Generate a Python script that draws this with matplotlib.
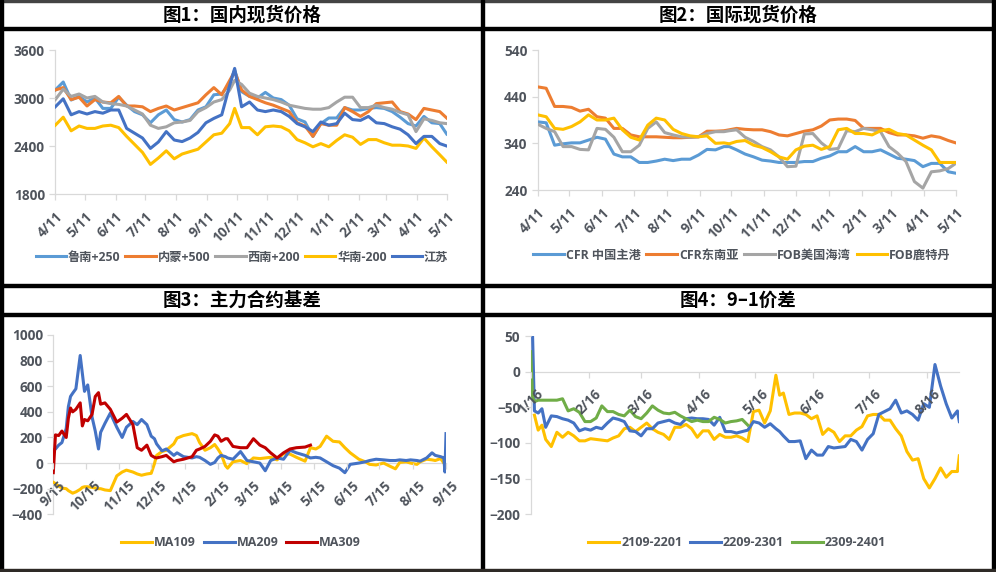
import numpy as np
import matplotlib
matplotlib.use('Agg')
import matplotlib.pyplot as plt
from matplotlib.patches import Rectangle

plt.rcParams['font.family'] = ['Open Sans', 'Noto Sans CJK SC', 'DejaVu Sans']
plt.rcParams['font.weight'] = 'bold'

nan = np.nan

# ---- 图1 / 图2: days since 2021-04-11 ----
p12_days = [0, 8, 16, 24, 32, 40, 48, 56, 64, 72, 80, 88, 96, 104, 112, 120, 128, 136, 144, 152,
            160, 168, 176, 181, 188, 196, 204, 212, 220, 228, 236, 244, 252, 260, 268, 276, 284, 292,
            300, 308, 316, 324, 332, 340, 348, 356, 364, 372, 380, 388, 395]

lunan = [3100, 3200, 2975, 3020, 2950, 3000, 2870, 2870, 3010, 2910, 2830, 2790, 2690, 2790, 2850, 2730, 2700,
         2730, 2850, 2890, 3040, 3050, 3180, 3350, 3080, 3020, 3000, 3070, 3000, 2980, 2910, 2740, 2700, 2520,
         2680, 2750, 2750, 2880, 2850, 2850, 2870, 2880, 2870, 2830, 2760, 2680, 2650, 2770, 2690, 2680, 2550]
neimeng = [3100, 3130, 2980, 3010, 2900, 2980, 2950, 2940, 3020, 2900, 2900, 2890, 2830, 2870, 2900, 2850, 2880,
           2910, 2940, 3040, 3130, 3040, 3220, 3330, 3100, 3020, 2980, 2940, 2910, 2870, 2830, 2690, 2650, 2520,
           2680, 2660, 2660, 2880, 2830, 2770, 2830, 2930, 2940, 2950, 2830, 2800, 2730, 2870, 2850, 2830, 2750]
xinan = [2980, 3110, 3020, 3050, 3000, 3020, 2950, 2930, 2920, 2900, 2850, 2800, 2660, 2620, 2640, 2690, 2700,
         2720, 2830, 2880, 2950, 2980, 3100, 3220, 3170, 3060, 3020, 3000, 2980, 2950, 2910, 2890, 2870, 2860,
         2860, 2880, 2950, 3010, 3010, 2880, 2880, 2910, 2880, 2860, 2820, 2790, 2580, 2740, 2720, 2690, 2680]
huanan = [2660, 2760, 2590, 2650, 2620, 2620, 2650, 2660, 2630, 2520, 2420, 2320, 2170, 2250, 2340, 2240, 2300,
          2330, 2360, 2450, 2540, 2560, 2680, 2870, 2630, 2630, 2540, 2640, 2650, 2640, 2590, 2480, 2440, 2390,
          2430, 2390, 2470, 2540, 2510, 2420, 2480, 2480, 2440, 2410, 2410, 2400, 2370, 2500, 2390, 2290, 2200]
jiangsu = [2890, 2990, 2790, 2830, 2800, 2830, 2810, 2850, 2850, 2620, 2560, 2500, 2370, 2450, 2580, 2475, 2455,
           2500, 2570, 2690, 2745, 2790, 3160, 3370, 2890, 2950, 2850, 2830, 2850, 2830, 2770, 2680, 2640, 2580,
           2700, 2660, 2680, 2810, 2730, 2720, 2770, 2690, 2680, 2640, 2610, 2540, 2430, 2520, 2520, 2430, 2400]

cfr_cn = [386, 384, 336, 339, 341, 341, 347, 353, 349, 317, 311, 311, 299, 299, 302, 306, 303, 306, 306, 315,
          327, 326, 333, 333, 326, 317, 311, 304, 302, 299, 299, 299, 301, 301, 308, 313, 322, 322, 333, 322,
          322, 326, 317, 308, 306, 303, 290, 297, 297, 279, 276]
cfr_sea = [461, 458, 419, 419, 417, 409, 413, 397, 394, 372, 372, 358, 354, 354, 354, 353, 352, 352, 353, 354,
           366, 366, 367, 369, 372, 370, 369, 369, 365, 358, 356, 361, 366, 369, 377, 390, 392, 392, 389, 372,
           372, 372, 363, 358, 358, 356, 351, 356, 353, 346, 341]
fob_us = [381, 372, 365, 333, 333, 327, 326, 372, 370, 353, 322, 322, 336, 372, 386, 363, 358, 354, 353, 354,
          361, 365, 365, 367, 369, 353, 344, 333, 326, 311, 290, 291, 360, 361, 341, 327, 329, 367, 365, 372,
          369, 365, 333, 319, 301, 258, 244, 279, 281, 286, 297]
fob_rtm = [401, 397, 372, 370, 376, 386, 401, 390, 390, 394, 369, 353, 347, 379, 394, 390, 370, 361, 356, 354,
           356, 340, 341, 339, 344, 346, 336, 331, 322, 311, 306, 326, 334, 336, 327, 333, 369, 372, 361, 361,
           358, 367, 370, 361, 358, 347, 336, 326, 299, 299, 299]

# ---- 图3: days since 9/15 ----
p3_days = [0, 2, 5, 8, 12, 14, 16, 18, 21, 25, 27, 29, 32, 36, 39, 42, 44, 48, 53, 59, 64, 68, 74, 78, 82, 87,
           91, 94, 96, 101, 105, 112, 115, 121, 129, 133, 136, 141, 146, 150, 153, 156, 160, 162, 167, 174, 180,
           186, 192, 197, 202, 208, 214, 220, 226, 234, 239, 244, 248, 254, 260, 266, 271, 276, 284, 290, 294,
           300, 307, 313, 318, 322, 328, 332, 338, 341, 347, 352, 355, 360, 363, 364, 365]
ma109 = [-150, -160, -180, -195, -200, -215, -225, -235, -225, -205, -190, -185, -185, -190, -195, -200, -200,
         -210, -215, -100, -70, -55, -70, -85, -95, -85, -80, -5, 60, 90, 100, 150, 195, 215, 230, 215, 160, 100,
         120, 145, 110, 70, -20, -40, 10, 20, -5, 40, 35, 40, 45, 25, 75, 70, 45, 15, 120, 110, 130, 210, 170,
         165, 120, 80, 30, 10, -10, -15, 0, -25, -45, 5, 10, 0, -10, 10, 30, 25, 20, 35, 0, 20, 95]
ma209 = [100, 110, 140, 160, 270, 440, 520, 545, 580, 840, 700, 560, 610, 360, 250, 110, 240, 310, 390, 280,
         200, 280, 325, 300, 340, 300, 210, 190, 150, 95, 110, 60, 80, 50, 40, 50, 45, 20, -10, 5, 40, 60, 50,
         40, 30, 90, 20, 10, 0, -60, 20, 40, 30, 100, 80, 60, 40, 45, 40, 10, -20, -40, -75, -10, 0, 10, 20, 30,
         25, 20, 20, 25, 20, 25, 20, 15, 40, 80, 60, 50, 40, -70, 230]
ma309 = [-75, 220, 215, 250, 200, 350, 430, 400, 420, 470, 290, 340, 330, 380, 520, 550, 460, 470, 420, 320,
         350, 380, 300, 120, 100, 140, 60, 45, 40, 50, 60, 10, 20, 30, 50, 100, 110, 130, 170, 220, 210, 170,
         190, 190, 130, 120, 120, 190, 140, 120, 80, 40, 80, 110, 120, 125, 140,
         nan, nan, nan, nan, nan, nan, nan, nan, nan, nan, nan, nan, nan, nan, nan, nan, nan, nan, nan, nan,
         nan, nan, nan, nan, nan, nan]

# ---- 图4: days since 1/16 ----
p4_days = [0, 1, 2, 4, 6, 8, 11, 14, 17, 20, 23, 26, 29, 32, 35, 38, 41, 44, 47, 50, 53, 56, 59, 62, 65, 68, 71,
           74, 77, 80, 83, 86, 89, 92, 95, 98, 101, 104, 107, 110, 113, 116, 119, 122, 125, 128, 131, 133, 135,
           138, 141, 144, 147, 150, 153, 156, 159, 162, 165, 168, 171, 174, 177, 180, 183, 186, 189, 192, 195,
           198, 201, 204, 207, 210, 213, 216, 219, 222, 225, 228, 229]
s2109 = [nan, nan, -61, -82, -75, -95, -105, -85, -92, -85, -90, -97, -97, -94, -95, -96, -97, -93, -90, -80,
         -78, -84, -78, -72, -80, -85, -88, -95, -78, -78, -74, -80, -92, -83, -83, -95, -88, -92, -92, -90,
         -93, -98, -56, -54, -72, -55, -5, -33, -30, -60, -58, -58, -60, -66, -62, -88, -80, -85, -98, -90,
         -90, -82, -77, -62, -60, -60, -68, -68, -80, -90, -112, -124, -122, -150, -163, -150, -135, -148,
         -140, -140, -118]
s2209 = [nan, 50, -55, -58, -52, -78, -62, -63, -66, -68, -72, -83, -80, -82, -78, -80, -72, -65, -67, -70,
         -83, -84, -90, -80, -80, -72, -70, -68, -72, -74, -66, -65, -66, -66, -67, -75, -64, -84, -84, -86,
         -84, -82, -70, -72, -78, -73, -80, -84, -90, -98, -98, -97, -122, -110, -117, -117, -105, -107, -106,
         -105, -95, -98, -110, -95, -87, -60, -56, -52, -40, -58, -55, -60, -68, -45, -50, 10, -20, -45, -65,
         -55, -70]
s2309 = [28, -35, -42, -40, -40, -40, -40, -40, -38, -55, -52, -57, -70, -70, -65, -48, -56, -56, -60, -62,
         -54, -63, -66, -58, -48, -54, -58, -59, -57, -62, -66, -70, -68, -70, -70, -64, -67, -72, -70, -69,
         -67, -75, nan, nan, nan, nan, nan, nan, nan, nan, nan, nan, nan, nan, nan, nan, nan, nan, nan, nan,
         nan, nan, nan, nan, nan, nan, nan, nan, nan, nan, nan, nan, nan, nan, nan, nan, nan, nan, nan, nan, nan]

C_LBLUE = '#5B9BD5'
C_ORANGE = '#ED7D31'
C_GRAY = '#A5A5A5'
C_YELLOW = '#FFC000'
C_BLUE = '#4472C4'
C_RED = '#C00000'
C_GREEN = '#70AD47'
AXC = '#D9D9D9'
TXT = '#4f545c'
LW = 2.2

W, H = 996, 572
fig = plt.figure(figsize=(W / 100, H / 100), dpi=100)


def frac(x0, y0, x1, y1):
    return [x0 / W, 1 - y1 / H, (x1 - x0) / W, (y1 - y0) / H]


def dates(base, days):
    return np.datetime64(base) + np.array(days)


def month_ticks(start, stop, day):
    m = np.arange(start, stop, dtype='datetime64[M]').astype('datetime64[D]') + (day - 1)
    labels = [f"{t.astype(object).month}/{t.astype(object).day}" for t in m]
    return m, labels


def style(ax, yticks, xt, xl, pad=7):
    for s in ['top', 'right']:
        ax.spines[s].set_visible(False)
    for s in ['left', 'bottom']:
        ax.spines[s].set_color(AXC)
        ax.spines[s].set_linewidth(0.9)
        ax.spines[s].set_zorder(1)
    ax.set_axisbelow(False)
    ax.tick_params(axis='both', colors=AXC, labelcolor=TXT, labelsize=9.8, length=4, width=0.9)
    ax.tick_params(axis='x', pad=pad, labelrotation=45)
    ax.set_yticks(yticks)
    ax.set_ylim(yticks[0], yticks[-1])
    ax.set_xticks(xt)
    ax.set_xticklabels(xl)
    for lbl in ax.get_xticklabels():
        lbl.set_rotation(45)
        lbl.set_ha('right')
        lbl.set_va('top')
        lbl.set_rotation_mode('anchor')
        lbl.set_fontweight('bold')
    for lbl in ax.get_yticklabels():
        lbl.set_fontweight('bold')
    ax.set_facecolor('none')


def legend(ax, cx, cy, ncol, size=9, colsp=0.6):
    ax.legend(loc='center', bbox_to_anchor=(cx / W, 1 - cy / H), bbox_transform=fig.transFigure,
              ncol=ncol, frameon=False, prop={'size': size, 'weight': 'bold'}, labelcolor=TXT,
              handlelength=2.5, handletextpad=0.15, columnspacing=colsp, borderaxespad=0)


def title(text, cx, cy):
    fig.text(cx / W, 1 - cy / H, text, ha='center', va='center', fontsize=13.3, fontweight='bold',
             family=['Noto Sans CJK SC', 'DejaVu Sans'], color='black')


# 图1
ax1 = fig.add_axes(frac(55.3, 50, 446.7, 194))
x1 = dates('2021-04-11', p12_days)
ax1.plot(x1, lunan, color=C_LBLUE, lw=LW, label='鲁南+250')
ax1.plot(x1, neimeng, color=C_ORANGE, lw=LW, label='内蒙+500')
ax1.plot(x1, xinan, color=C_GRAY, lw=LW, label='西南+200')
ax1.plot(x1, huanan, color=C_YELLOW, lw=LW, label='华南-200')
ax1.plot(x1, jiangsu, color=C_BLUE, lw=LW, label='江苏')
t, l = month_ticks('2021-04', '2022-06', 11)
style(ax1, [1800, 2400, 3000, 3600], t, l)
ax1.set_xlim(x1[0], x1[-1])
legend(ax1, 242, 257, 5, size=8.8, colsp=0.4)
title('图1：国内现货价格', 242, 15)

# 图2
ax2 = fig.add_axes(frac(537.7, 50, 955.7, 190))
ax2.plot(x1, cfr_cn, color=C_LBLUE, lw=LW, label='CFR 中国主港')
ax2.plot(x1, cfr_sea, color=C_ORANGE, lw=LW, label='CFR东南亚')
ax2.plot(x1, fob_us, color=C_GRAY, lw=LW, label='FOB美国海湾')
ax2.plot(x1, fob_rtm, color=C_YELLOW, lw=LW, label='FOB鹿特丹')
style(ax2, [240, 340, 440, 540], t, l)
ax2.set_xlim(x1[0], x1[-1])
legend(ax2, 742, 255, 4, size=8.8, colsp=0.5)
title('图2：国际现货价格', 738, 15)

# 图3
ax3 = fig.add_axes(frac(53.3, 335, 446, 514.3))
x3 = dates('2021-09-15', p3_days)
ax3.plot(x3, ma109, color=C_YELLOW, lw=LW, label='MA109')
ax3.plot(x3, ma209, color=C_BLUE, lw=LW, label='MA209')
ax3.plot(x3, ma309, color=C_RED, lw=LW, label='MA309')
t3, l3 = month_ticks('2021-09', '2022-10', 15)
style(ax3, list(range(-400, 1001, 200)), t3, l3)
ax3.spines['bottom'].set_position(('data', 0))
ax3.set_xlim(x3[0], x3[-1])
legend(ax3, 241, 543, 3)
title('图3：主力合约基差', 242, 300)

# 图4
ax4 = fig.add_axes(frac(530.7, 336, 959.3, 514.3))
x4 = dates('2022-01-16', p4_days)
ax4.plot(x4, s2109, color=C_YELLOW, lw=LW, label='2109-2201')
ax4.plot(x4, s2209, color=C_BLUE, lw=LW, label='2209-2301')
ax4.plot(x4, s2309, color=C_GREEN, lw=LW, label='2309-2401')
t4, l4 = month_ticks('2022-01', '2022-09', 16)
style(ax4, [-200, -150, -100, -50, 0, 50], t4, l4)
ax4.spines['bottom'].set_position(('data', 0))
ax4.set_xlim(x4[0], x4[-1])
legend(ax4, 737, 543, 3)
title('图4：9–1价差', 738, 300)


# frame lines
def bar(x0, y0, x1, y1, color='black'):
    fig.patches.append(Rectangle((x0 / W, 1 - y1 / H), (x1 - x0) / W, (y1 - y0) / H,
                                 transform=fig.transFigure, color=color, zorder=10))


bar(0, 0, 996, 1.5, '#444444')
bar(0, 0, 2.5, 570)
bar(481, 0, 484, 570)
bar(992, 0, 995, 570)
bar(0, 27, 995, 30)
bar(0, 283.5, 995, 287)
bar(0, 312.5, 995, 315.5)
bar(0, 569, 996, 572, '#2e2a26')

fig.savefig('out.png', dpi=100)
